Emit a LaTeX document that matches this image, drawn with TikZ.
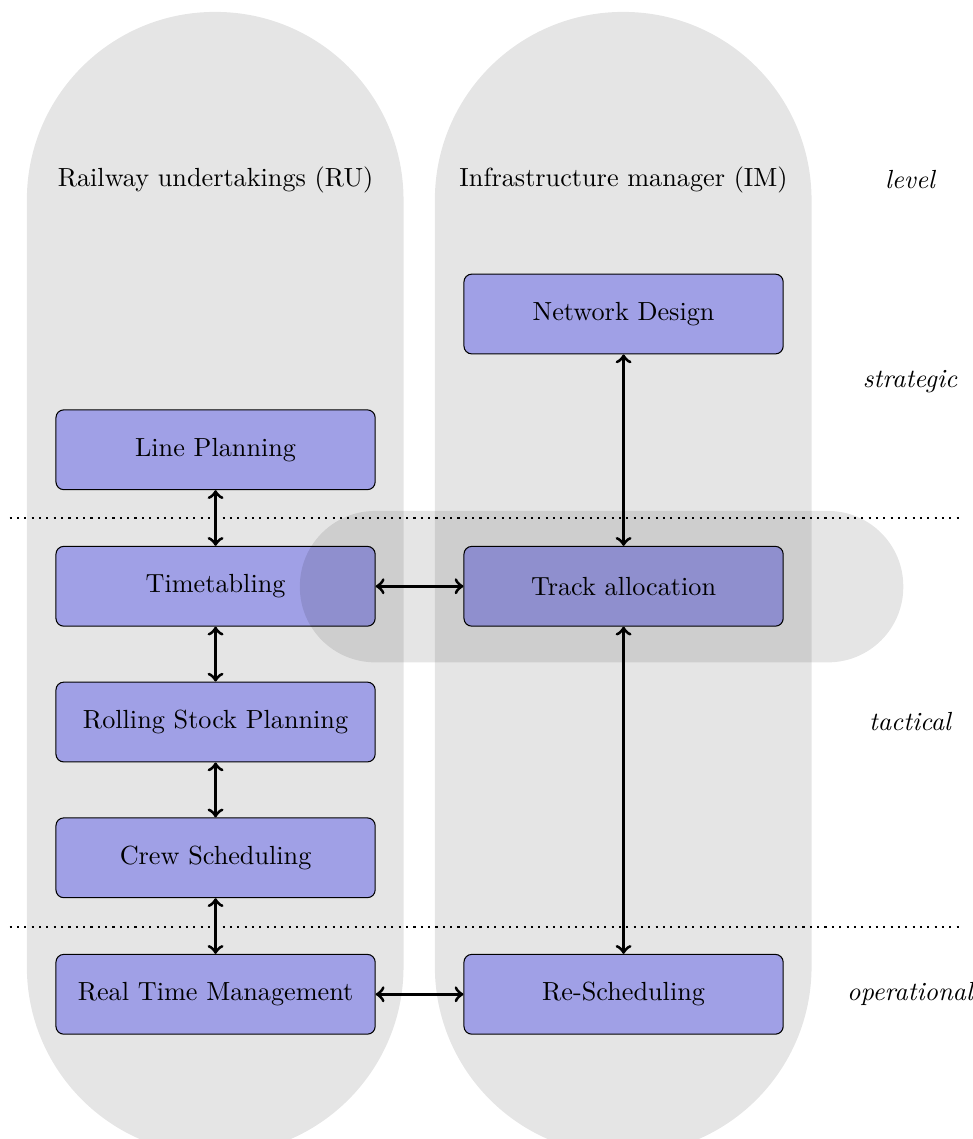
\documentclass[tikz,border=0pt]{standalone}
\usepackage{amsmath}
\definecolor{taskblue}{RGB}{160,160,230}

\begin{document}
\begin{tikzpicture}[task/.style={draw,fill=taskblue,rounded corners=3pt,minimum width=4.28cm,minimum height=1.07cm},
  lane/.style={fill=black,opacity=0.1},
  link/.style={<->,very thick},
  lvl/.style={font=\itshape}]
  \clip (0,0) rectangle (13.04,15.27);
  \fill[lane,rounded corners=2.52cm] (0.36,-0.21) rectangle (5.41,15.11);
  \fill[lane,rounded corners=2.52cm] (5.83,-0.21) rectangle (10.88,15.11);
  \path (2.89,12.86) node (ru) {Railway undertakings (RU)} (8.36,12.86) node (im) {Infrastructure manager (IM)}
  (12.2,12.86) node[lvl] (lvl) {level} (12.2,10.15) node[lvl] (strat) {strategic}
  (12.2,5.59) node[lvl] (tact) {tactical} (12.2,1.94) node[lvl] (oper) {operational};
  \path (8.36,11.06) node[task] (nd) {Network Design} (2.89,9.24) node[task] (lp) {Line Planning}
  (2.89,7.41) node[task] (tt) {Timetabling} (8.36,7.41) node[task] (ta) {Track allocation}
  (2.89,5.59) node[task] (rs) {Rolling Stock Planning} (2.89,3.77) node[task] (cs) {Crew Scheduling}
  (2.89,1.94) node[task] (rt) {Real Time Management} (8.36,1.94) node[task] (re) {Re-Scheduling};
  \fill[lane,rounded corners=1.01cm] (4.02,6.39) rectangle (12.11,8.42);
  \draw[dotted,thick] (0.13,8.32) -- (12.91,8.32);
  \draw[dotted,thick] (0.13,2.84) -- (12.91,2.84);
  \draw[link] (lp) -- (tt);
  \draw[link] (tt) -- (rs);
  \draw[link] (rs) -- (cs);
  \draw[link] (cs) -- (rt);
  \draw[link] (tt) -- (ta);
  \draw[link] (rt) -- (re);
  \draw[link] (nd) -- (ta);
  \draw[link] (ta) -- (re);
\end{tikzpicture}
\end{document}
